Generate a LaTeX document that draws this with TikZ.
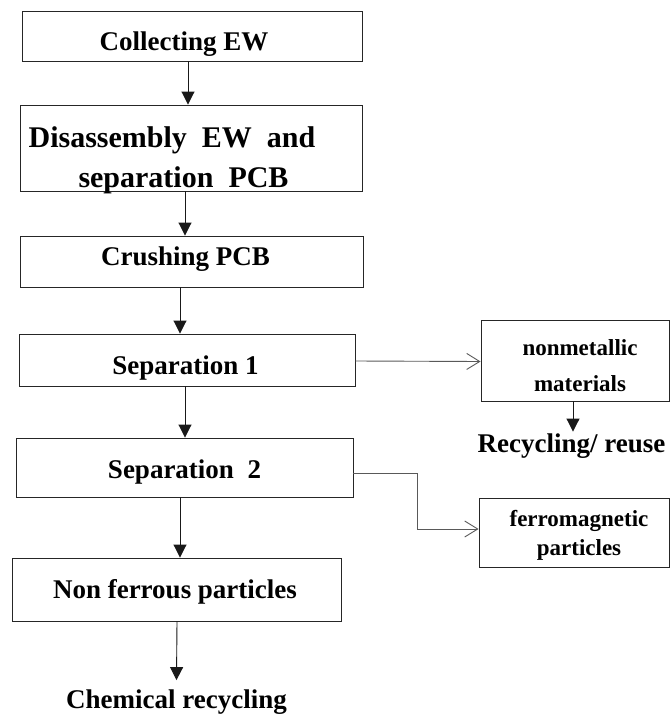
\documentclass[tikz,border=0pt]{standalone}
\usepackage{fontspec}
\setmainfont{Liberation Serif}
\usetikzlibrary{arrows.meta}
% text placed at an offset (dx right, dy = baseline above box centre)
\newcommand\placetext[3]{\makebox[0pt]{\hspace*{#1}\hspace*{#1}\raisebox{#2}[0pt][0pt]{\begin{tabular}[t]{@{}c@{}}#3\end{tabular}}}}
\begin{document}
\begin{tikzpicture}[x=1pt,y=-1pt,
  box/.style={draw=black!85, line width=0.9pt, inner sep=0pt,
    font=\fontsize{27}{36}\selectfont\bfseries},
  lbl/.style={inner sep=0pt, anchor=base, font=\fontsize{27}{32}\selectfont\bfseries},
  arr/.style={draw=black!90, line width=0.9pt, -{Triangle[length=13pt,width=13pt]}},
  garr/.style={draw=black!65, line width=0.9pt, -{Straight Barb[length=13pt,width=16pt,line width=0.9pt]}}
]
\useasboundingbox (0,0) rectangle (670,715);
\node[box, minimum width=340pt, minimum height=50pt] (b1) at (192,36)
  {\placetext{-8pt}{-14.5pt}{Collecting EW}};
\node[box, minimum width=342pt, minimum height=86pt,
  font=\fontsize{30}{40}\selectfont\bfseries] (b2) at (191,148)
  {\placetext{0pt}{1pt}{Disassembly\hspace{15pt}EW\hspace{15pt}and\hspace*{38pt}\\
   separation\hspace{15pt}PCB\hspace*{15pt}}};
\node[box, minimum width=343pt, minimum height=51pt] (b3) at (191.5,261.5)
  {\placetext{-6pt}{-3.5pt}{Crushing PCB}};
\node[box, minimum width=336pt, minimum height=52pt] (b4) at (187,360)
  {\placetext{-1.5pt}{-14pt}{Separation 1}};
\node[box, minimum width=337pt, minimum height=59pt] (b5) at (184.5,467.5)
  {\placetext{0pt}{-10.5pt}{Separation\ \ 2}};
\node[box, minimum width=329pt, minimum height=63pt] (b6) at (176.5,589.5)
  {\placetext{-1.5pt}{-8.5pt}{Non ferrous particles}};
\node[lbl] (chem) at (176.5,708) {Chemical recycling};

\node[box, minimum width=188pt, minimum height=81pt,
  font=\fontsize{23}{36.5}\selectfont\bfseries] (nm) at (575,360.5)
  {\placetext{5pt}{5.5pt}{nonmetallic\\materials}};
\node[lbl] (reuse) at (571.5,452) {Recycling/ reuse};
\node[box, minimum width=190pt, minimum height=69pt,
  font=\fontsize{23}{28.5}\selectfont\bfseries] (fe) at (574,533)
  {\placetext{5pt}{6.5pt}{ferromagnetic\\particles}};

\draw[arr] ([xshift=-4pt]b1.south) -- ([xshift=-3pt]b2.north);
\draw[arr] ([xshift=-6pt]b2.south) -- ([xshift=-6.5pt]b3.north);
\draw[arr] ([xshift=-11.5pt]b3.south) -- ([xshift=-7pt]b4.north);
\draw[arr] ([xshift=-2pt]b4.south) -- ([xshift=0.5pt]b5.north);
\draw[arr] ([xshift=-4.5pt]b5.south) -- ([xshift=3.5pt]b6.north);
\draw[arr] ([xshift=0.5pt]b6.south) -- ([yshift=9pt]chem.north);
\draw[arr] ([xshift=-2pt]nm.south) -- ([xshift=1.5pt,yshift=1.5pt]reuse.north);

\draw[garr] ([yshift=-1pt]b4.east) -- ([yshift=-1pt]nm.west);
\draw[garr] ([yshift=-5.5pt]b5.east) -- ++(64,0) |- ([yshift=4pt]fe.west);
\end{tikzpicture}
\end{document}
